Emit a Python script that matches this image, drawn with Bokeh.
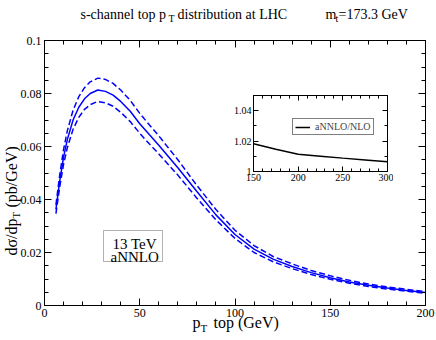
import math
from bokeh.plotting import figure
from bokeh.models import (LinearAxis, FixedTicker, Range1d, Label, BoxAnnotation,
                          Legend, LegendItem)
from bokeh.embed import file_html
from bokeh.resources import INLINE

# ---------------- data ----------------
pt = [6, 8, 10, 12, 15, 18, 21, 24, 28, 32, 36, 40, 45, 50, 55, 60, 70, 80, 90,
      100, 110, 120, 130, 140, 150, 160, 170, 180, 190, 200]
central = [0.0363, 0.0470, 0.0560, 0.0627, 0.0700, 0.0748, 0.0780, 0.0800, 0.0813,
           0.0808, 0.0794, 0.0770, 0.0733, 0.0686, 0.0645, 0.0605, 0.0520, 0.0430,
           0.0342, 0.0268, 0.0213, 0.0175, 0.0147, 0.0124, 0.0105, 0.0089, 0.0076,
           0.0066, 0.0057, 0.0049]
upper = [0.0380, 0.0493, 0.0588, 0.0660, 0.0737, 0.0788, 0.0822, 0.0844, 0.0858,
         0.0853, 0.0838, 0.0813, 0.0774, 0.0725, 0.0682, 0.0640, 0.0550, 0.0453,
         0.0362, 0.0284, 0.0226, 0.0185, 0.0157, 0.0132, 0.0112, 0.0095, 0.0081,
         0.0070, 0.0061, 0.0052]
lower = [0.0347, 0.0448, 0.0533, 0.0596, 0.0665, 0.0710, 0.0740, 0.0758, 0.0770,
         0.0765, 0.0752, 0.0729, 0.0694, 0.0650, 0.0610, 0.0572, 0.0492, 0.0405,
         0.0323, 0.0253, 0.0200, 0.0165, 0.0139, 0.0117, 0.0099, 0.0084, 0.0072,
         0.0062, 0.0054, 0.0046]

ratio_pt = [150, 175, 200, 225, 250, 275, 300]
ratio = [1.0182, 1.0146, 1.0114, 1.0101, 1.0088, 1.0076, 1.0064]

x_major = [0, 50, 100, 150, 200]
x_minor = list(range(0, 201, 10))
y_major = [0, 0.02, 0.04, 0.06, 0.08, 0.1]
y_labels = ["0", "0.02", "0.04", "0.06", "0.08", "0.1"]
y_minor = [i * 0.005 for i in range(21)]

ix_major = [150, 200, 250, 300]
ix_minor = list(range(150, 301, 10))
iy_major = [1.0, 1.02, 1.04]
iy_labels = ["1", "1.02", "1.04"]
iy_minor = [1.0, 1.01, 1.02, 1.03, 1.04, 1.05]

SERIF = "Liberation Serif"
BLUE = "#0000ff"
W, H = 436, 340

# ---------------- background figure holding the free texts ----------------
bg = figure(width=W, height=H, x_range=Range1d(0, 1), y_range=Range1d(0, 1),
            output_backend="svg", toolbar_location=None,
            x_axis_location=None, y_axis_location=None,
            min_border=0, min_border_left=0, min_border_right=0,
            min_border_top=0, min_border_bottom=0)
bg.grid.visible = False
bg.outline_line_color = None
bg.background_fill_color = "white"
bg.border_fill_color = "white"


def txt(s, px, py, size, angle=0.0):
    bg.add_layout(Label(x=px, y=H - py, x_units="screen", y_units="screen",
                        text=s, text_font=SERIF, text_font_size=size,
                        text_color="black", text_baseline="alphabetic",
                        text_align="left", angle=angle))


# title
txt("s-channel top p", 80, 14, "14px")
txt("T", 168, 18, "10px")
txt("distribution at LHC", 177, 14, "14px")
txt("m", 325, 14, "14px")
txt("t", 335, 18, "10px")
txt("=173.3 GeV", 338, 14, "14px")

# x axis title
txt("p", 192, 322, "16px")
txt("T", 200, 327, "11px")
txt("top (GeV)", 213, 322, "16px")

# y axis title (rotated)
txt("d\u03c3/dp", 11, 255, "16px", math.pi / 2)
txt("T", 15, 218, "11px", math.pi / 2)
txt("(pb/GeV)", 11, 207, "16px", math.pi / 2)

# boxed text
bg.add_layout(BoxAnnotation(left=103, right=162, top=H - 230, bottom=H - 261,
                            left_units="screen", right_units="screen",
                            top_units="screen", bottom_units="screen",
                            line_color="black", line_width=1, fill_color="white",
                            fill_alpha=1.0))
txt("13 TeV", 112, 243, "15px")
txt("aNNLO", 110, 256, "15px")

# ---------------- main figure ----------------
p = figure(width=W, height=H, x_range=Range1d(0, 200), y_range=Range1d(0, 0.1),
           output_backend="svg", toolbar_location=None,
           min_border_left=44, min_border_right=11, min_border_top=40,
           min_border_bottom=35)
p.grid.visible = False
p.outline_line_color = "black"
p.background_fill_alpha = 0.0
p.border_fill_alpha = 0.0

p.add_layout(LinearAxis(), "right")
p.add_layout(LinearAxis(), "above")


def style_axis(ax, ticks, minor, labels, size, tin, tmin, show):
    ax.ticker = FixedTicker(ticks=ticks, minor_ticks=minor)
    ax.major_tick_in = tin
    ax.major_tick_out = 0
    ax.minor_tick_in = tmin
    ax.minor_tick_out = 0
    ax.axis_line_color = "black"
    ax.major_tick_line_color = "black"
    ax.minor_tick_line_color = "black"
    ax.major_label_text_font = SERIF
    ax.major_label_text_color = "black"
    ax.major_label_standoff = 3
    if show:
        ax.major_label_text_font_size = size
        ax.major_label_overrides = {t: l for t, l in zip(ticks, labels)}
    else:
        ax.major_label_text_font_size = "1px"
        ax.major_label_overrides = {t: "" for t in ticks}


style_axis(p.below[0], x_major, x_minor, [str(v) for v in x_major], "12px", 7, 4, True)
style_axis(p.above[0], x_major, x_minor, None, "12px", 7, 4, False)
style_axis(p.left[0], y_major, y_minor, y_labels, "12px", 7, 4, True)
style_axis(p.right[0], y_major, y_minor, None, "12px", 7, 4, False)

p.line(pt, upper, line_color=BLUE, line_width=1.5, line_dash="6 3")
p.line(pt, lower, line_color=BLUE, line_width=1.5, line_dash="6 3")
p.line(pt, central, line_color=BLUE, line_width=1.5)
p.styles = {"position": "absolute", "left": "0px", "top": "0px"}

# ---------------- inset ----------------
ins = figure(width=164, height=96, x_range=Range1d(150, 300), y_range=Range1d(1.0, 1.05),
             output_backend="svg", toolbar_location=None,
             min_border_left=24, min_border_right=6, min_border_top=4,
             min_border_bottom=16)
ins.grid.visible = False
ins.outline_line_color = "black"
ins.background_fill_color = "white"
ins.border_fill_alpha = 0.0
ins.add_layout(LinearAxis(), "right")
ins.add_layout(LinearAxis(), "above")
style_axis(ins.below[0], ix_major, ix_minor, [str(v) for v in ix_major], "10px", 5, 3, True)
style_axis(ins.above[0], ix_major, ix_minor, None, "10px", 5, 3, False)
style_axis(ins.left[0], iy_major, iy_minor, iy_labels, "10px", 5, 3, True)
style_axis(ins.right[0], iy_major, iy_minor, None, "10px", 5, 3, False)
ins.below[0].major_label_standoff = 2
ins.left[0].major_label_standoff = 2

r = ins.line(ratio_pt, ratio, line_color="black", line_width=1.5)
leg = Legend(items=[LegendItem(label="aNNLO/NLO", renderers=[r])], location=(39, 36),
             border_line_color="black", border_line_width=1,
             background_fill_color="white", background_fill_alpha=1.0,
             label_text_font=SERIF, label_text_font_size="10px",
             glyph_width=15, glyph_height=8, label_height=8, label_standoff=5,
             padding=2, margin=0, spacing=0)
ins.add_layout(leg)
ins.styles = {"position": "absolute", "left": "229px", "top": "91px"}

open("out.html", "w").write(file_html([bg, p, ins], INLINE))
